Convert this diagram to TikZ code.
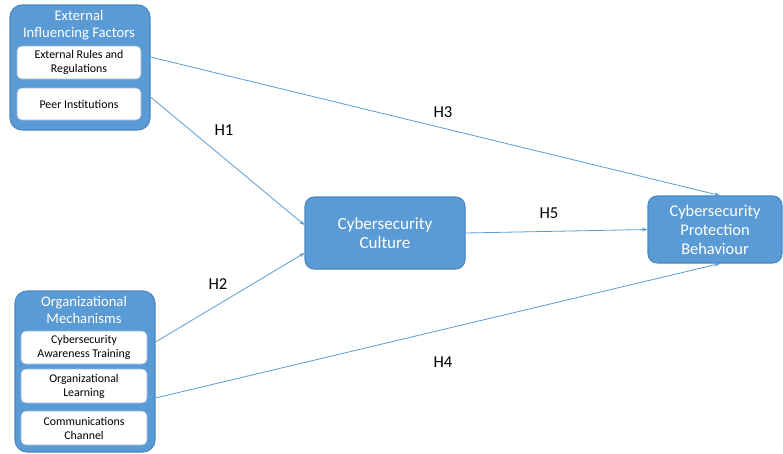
\documentclass[tikz,border=0pt]{standalone}
\usepackage{fontspec}
\setmainfont{Carlito}
\usetikzlibrary{calc,arrows.meta}
\definecolor{ofblue}{HTML}{5B9BD5}
\definecolor{ofedge}{HTML}{4A86C0}
\tikzset{
  outerbox/.style={draw=ofedge, line width=0.8pt, fill=ofblue, rounded corners=9pt, minimum width=105pt, inner sep=0pt},
  innerbox/.style={draw=ofedge!60, line width=0.4pt, fill=white, rounded corners=3.5pt, minimum width=93pt, inner sep=0pt, align=center, font=\fontsize{8.9}{10.5}\selectfont, text=black},
  titletext/.style={align=center, text=white, font=\fontsize{11}{12.75}\selectfont, inner sep=0pt},
  mainbox/.style={draw=ofedge, line width=0.8pt, fill=ofblue, rounded corners=7pt, inner sep=0pt, align=center, text=white},
  link/.style={draw=ofblue, line width=0.6pt, -{Stealth[length=4pt,width=3pt]}},
  hlabel/.style={font=\fontsize{12.5}{14}\selectfont, text=black, inner sep=0pt}
}
\begin{document}
\begin{tikzpicture}[x=0.75pt,y=-0.75pt]
\useasboundingbox (0,0) rectangle (783,454);
% group 1
\node[outerbox, minimum height=93.75pt] (ef) at (80,67.5) {};
\node[titletext] (eft) at (79,25.5) {External\\Influencing Factors};
\node[innerbox, minimum height=24.75pt] (er) at (79,62.5) {External Rules and\\Regulations};
\node[innerbox, minimum height=24pt] (pi) at (79,104) {Peer Institutions};
% group 2
\node[outerbox, minimum height=120.75pt] (om) at (85,371.5) {};
\node[titletext] (omt) at (84,309.5) {Organizational\\Mechanisms};
\node[innerbox, minimum width=94.5pt, minimum height=24.75pt] (cat) at (84,347.5) {Cybersecurity\\Awareness Training};
\node[innerbox, minimum width=94.5pt, minimum height=25.5pt] (ol) at (84,386) {Organizational\\Learning};
\node[innerbox, minimum width=94.5pt, minimum height=25.5pt] (ccn) at (84,428) {Communications\\Channel};
% main
\node[mainbox, minimum width=120pt, minimum height=54pt, font=\fontsize{12.8}{14.5}\selectfont] (cc) at (385,233) {Cybersecurity\\Culture};
\node[mainbox, minimum width=100.5pt, minimum height=50.25pt, font=\fontsize{12.3}{14.2}\selectfont] (pb) at (715,229.5) {Cybersecurity\\Protection\\Behaviour};
% connectors
\draw[link] ($(er.center -| ef.east)+(0,-5.5)$) -- ([xshift=3.75pt]pb.north);
\draw[link] ($(pi.center -| ef.east)+(0,-7)$) -- ([yshift=6pt]cc.west);
\draw[link] ($(cat.center -| om.east)+(0,-5.5)$) -- ([yshift=-15pt]cc.west);
\draw[link] ($(ol.center -| om.east)+(0,12)$) -- ([xshift=3.75pt]pb.south);
\draw[link] (cc.east) -- (pb.west);
% labels
\node[hlabel] (h1) at (224,130) {H1};
\node[hlabel] (h2) at (218,284) {H2};
\node[hlabel] (h3) at (443,112) {H3};
\node[hlabel] (h4) at (443,362) {H4};
\node[hlabel] (h5) at (549,213) {H5};
\end{tikzpicture}
\end{document}
